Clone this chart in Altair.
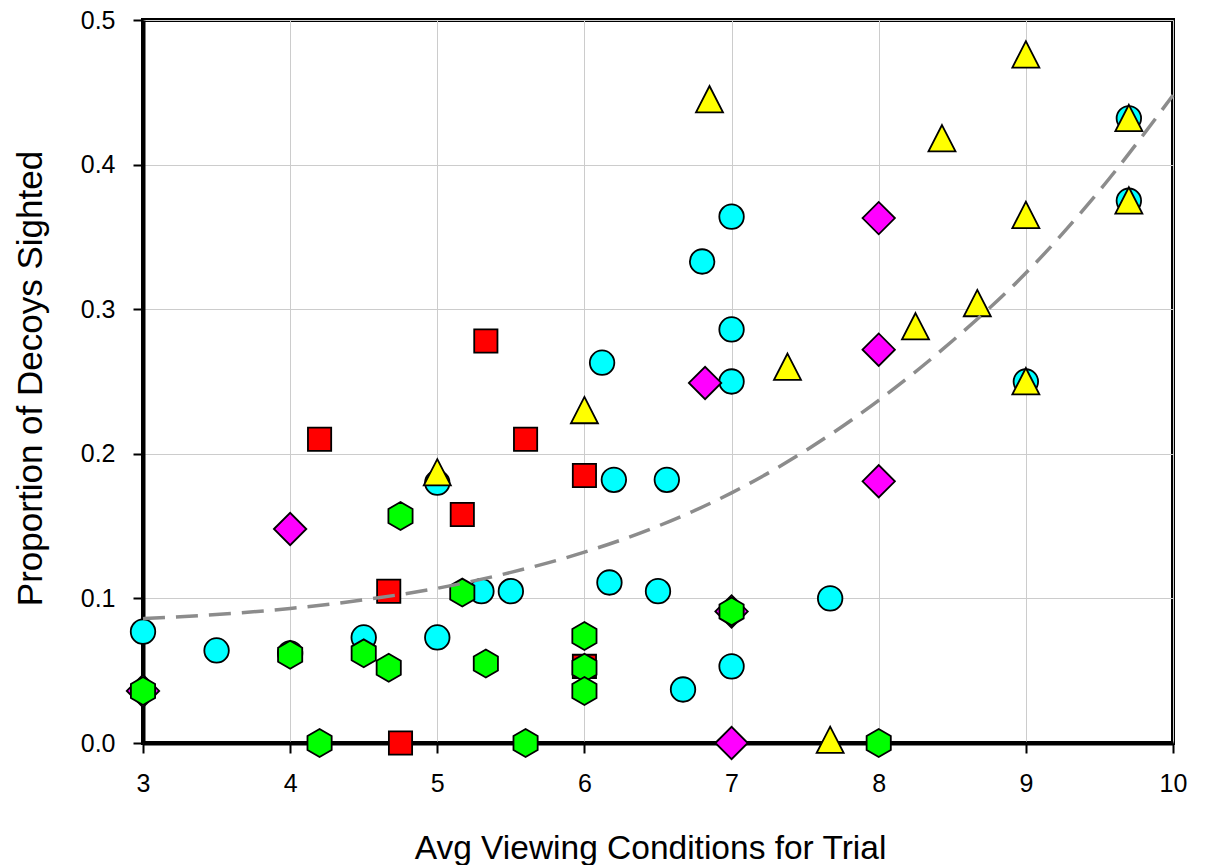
import altair as alt
import pandas as pd

# Cyan circles
cyan_x = [3.0, 3.5, 4.0, 4.5, 5.0, 5.0, 5.3, 5.5, 6.12, 6.2, 6.17, 6.56, 6.5, 6.67, 6.8, 7.0, 7.0, 7.0, 7.0, 7.67, 9.0, 9.7, 9.7]
cyan_y = [0.077, 0.064, 0.062, 0.073, 0.073, 0.180, 0.105, 0.105, 0.263, 0.182, 0.111, 0.182, 0.105, 0.037, 0.333, 0.364, 0.286, 0.250, 0.053, 0.100, 0.250, 0.432, 0.375]

# Magenta diamonds
mag_x = [3.0, 4.0, 6.82, 7.0, 7.0, 8.0, 8.0, 8.0]
mag_y = [0.036, 0.148, 0.249, 0.091, 0.0, 0.363, 0.272, 0.181]

# Red squares
red_x = [4.2, 5.33, 5.6, 6.0, 5.17, 4.67, 4.75, 6.0]
red_y = [0.210, 0.278, 0.210, 0.185, 0.158, 0.105, 0.0, 0.053]

# Green hexagons
green_x = [3.0, 4.0, 4.5, 4.67, 4.75, 5.17, 5.33, 6.0, 6.0, 6.0, 7.0, 4.2, 5.6, 8.0]
green_y = [0.036, 0.061, 0.062, 0.052, 0.157, 0.104, 0.055, 0.074, 0.052, 0.036, 0.091, 0.0, 0.0, 0.0]

# Yellow triangles
yel_x = [6.85, 9.0, 8.43, 9.0, 8.67, 8.25, 7.38, 6.0, 5.0, 9.0, 9.7, 9.7, 7.67]
yel_y = [0.445, 0.476, 0.418, 0.365, 0.304, 0.288, 0.260, 0.230, 0.187, 0.250, 0.432, 0.375, 0.002]

# Trend line
trend_x = [3.0, 4.0, 4.5, 5.0, 5.5, 6.0, 6.5, 7.0, 7.5, 8.0, 8.5, 9.0, 9.5, 10.0]
trend_y = [0.086, 0.093, 0.099, 0.107, 0.118, 0.132, 0.150, 0.173, 0.202, 0.237, 0.278, 0.325, 0.382, 0.448]

x_ticks = [3, 4, 5, 6, 7, 8, 9, 10]
y_ticks = [0.0, 0.1, 0.2, 0.3, 0.4, 0.5]

xs = alt.Scale(domain=[3, 10], nice=False, zero=False)
ys = alt.Scale(domain=[0, 0.5], nice=False)

x_axis = alt.Axis(values=x_ticks, title="Avg Viewing Conditions for Trial", format="d",
                  labelFlush=False, labelPadding=18, titlePadding=36, titleFontSize=33.5,
                  titleX=507, titleAlign="center")
y_axis = alt.Axis(values=y_ticks, title="Proportion of Decoys Sighted", format=".1f",
                  labelPadding=18, titlePadding=32, titleFontSize=35,
                  titleY=358, titleAlign="center")

HEX = "M0,-1L0.866,-0.5L0.866,0.5L0,1L-0.866,0.5L-0.866,-0.5Z"
TRI = "M0,-1L1,0.95L-1,0.95Z"


def layer(xv, yv, shape, fill, size):
    df = pd.DataFrame({"x": xv, "y": yv})
    return alt.Chart(df).mark_point(
        shape=shape, filled=True, fill=fill, stroke="black", strokeWidth=1.8,
        size=size, opacity=1
    ).encode(
        x=alt.X("x:Q", scale=xs, axis=x_axis),
        y=alt.Y("y:Q", scale=ys, axis=y_axis),
    )


cyan = layer(cyan_x, cyan_y, "circle", "#00FFFF", 600)
mag = layer(mag_x, mag_y, "diamond", "#FF00FF", 1050)
red = layer(red_x, red_y, "square", "#FF0000", 540)
green = layer(green_x, green_y, HEX, "#00FF00", 780)
yel = layer(yel_x, yel_y, TRI, "#FFFF00", 729)

trend = alt.Chart(pd.DataFrame({"x": trend_x, "y": trend_y})).mark_line(
    color="#8c8c8c", strokeWidth=3.5, strokeDash=[22, 11], interpolate="monotone"
).encode(
    x=alt.X("x:Q", scale=xs, axis=x_axis),
    y=alt.Y("y:Q", scale=ys, axis=y_axis),
)

chart = alt.layer(cyan, mag, red, green, yel, trend).properties(
    width=1030, height=723,
    autosize=alt.AutoSizeParams(type="none"),
    padding={"left": 143, "top": 20, "right": 32, "bottom": 122},
    background="white",
).configure_view(
    stroke="black", strokeWidth=4
).configure_axis(
    domainColor="black", domainWidth=4,
    tickColor="black", tickWidth=2, tickSize=10,
    gridColor="#cccccc", gridWidth=1,
    labelFont="Liberation Sans", labelFontSize=25, labelColor="black",
    titleFont="Liberation Sans", titleFontWeight="normal", titleColor="black",
)

chart.save("out.html", embed_options={"renderer": "svg", "actions": False})
